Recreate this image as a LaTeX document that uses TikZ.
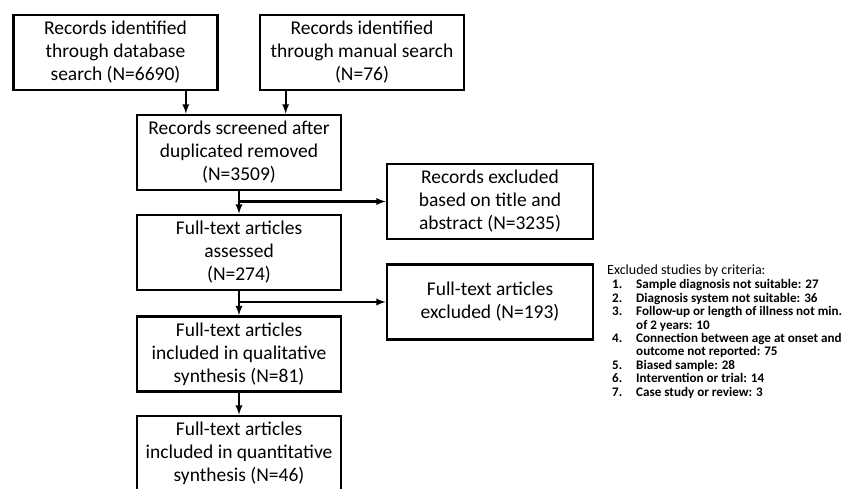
\documentclass[tikz,border=0pt]{standalone}
\usepackage{fontspec}
\setmainfont{Carlito}
\begin{document}
\begin{tikzpicture}[x=1pt,y=-1pt,
		box/.style={draw, line width=2.7pt, minimum width=204pt, minimum height=75pt, align=center, inner sep=2pt, font=\fontsize{19.5}{23}\selectfont},
		arr/.style={->, >=latex, line width=2.2pt}]
		\useasboundingbox (0,0) rectangle (845,488);
		\draw (115.5,52.5) node [box] (db) {Records identified\\through database\\search (N=6690)};
		\draw (362,52.5) node [box] (man) {Records identified\\through manual search\\(N=76)};
		\draw (239,152.5) node [box] (scr) {Records screened after\\duplicated removed\\(N=3509)};
		\draw (239,252.5) node [box] (ass) {Full-text articles\\assessed\\(N=274)};
		\draw (490,201.5) node [box, minimum width=206pt] (rex) {Records excluded\\based on title and\\abstract (N=3235)};
		\draw (239,354) node [box] (qual) {Full-text articles\\included in qualitative\\synthesis (N=81)};
		\draw (490,302) node [box, minimum width=206pt] (fex) {Full-text articles\\excluded (N=193)};
		\draw (239,453.5) node [box] (quan) {Full-text articles\\included in quantitative\\synthesis (N=46)};

		% exclusion criteria
		\draw (607,265) node [anchor=north west, align=left, inner sep=0pt, font=\fontsize{13.1}{13.4}\selectfont\bfseries] (crit)
			{{\mdseries\fontsize{14}{15}\selectfont Excluded studies by criteria:}\\[0.5pt]
			\makebox[29pt][l]{\hspace{5pt}1.}Sample diagnosis not suitable: 27\\
			\makebox[29pt][l]{\hspace{5pt}2.}Diagnosis system not suitable: 36\\
			\makebox[29pt][l]{\hspace{5pt}3.}Follow-up or length of illness not min.\\
			\hspace*{29pt}of 2 years: 10\\
			\makebox[29pt][l]{\hspace{5pt}4.}Connection between age at onset and\\
			\hspace*{29pt}outcome not reported: 75\\
			\makebox[29pt][l]{\hspace{5pt}5.}Biased sample: 28\\
			\makebox[29pt][l]{\hspace{5pt}6.}Intervention or trial: 14\\
			\makebox[29pt][l]{\hspace{5pt}7.}Case study or review: 3};

		\draw [arr] ([xshift=-33pt]db.south east) -- ([xshift=-33pt]db.south east |- scr.north);
		\draw [arr] ([xshift=27pt]man.south west) -- ([xshift=27pt]man.south west |- scr.north);
		\draw [arr] (scr) -- (ass);
		\draw [arr] (scr.south |- rex.west) -- (rex.west);
		\draw [arr] (ass) -- (qual);
		\draw [arr] (ass.south |- fex.west) -- (fex.west);
		\draw [arr] (qual) -- (quan);
	\end{tikzpicture}
\end{document}
